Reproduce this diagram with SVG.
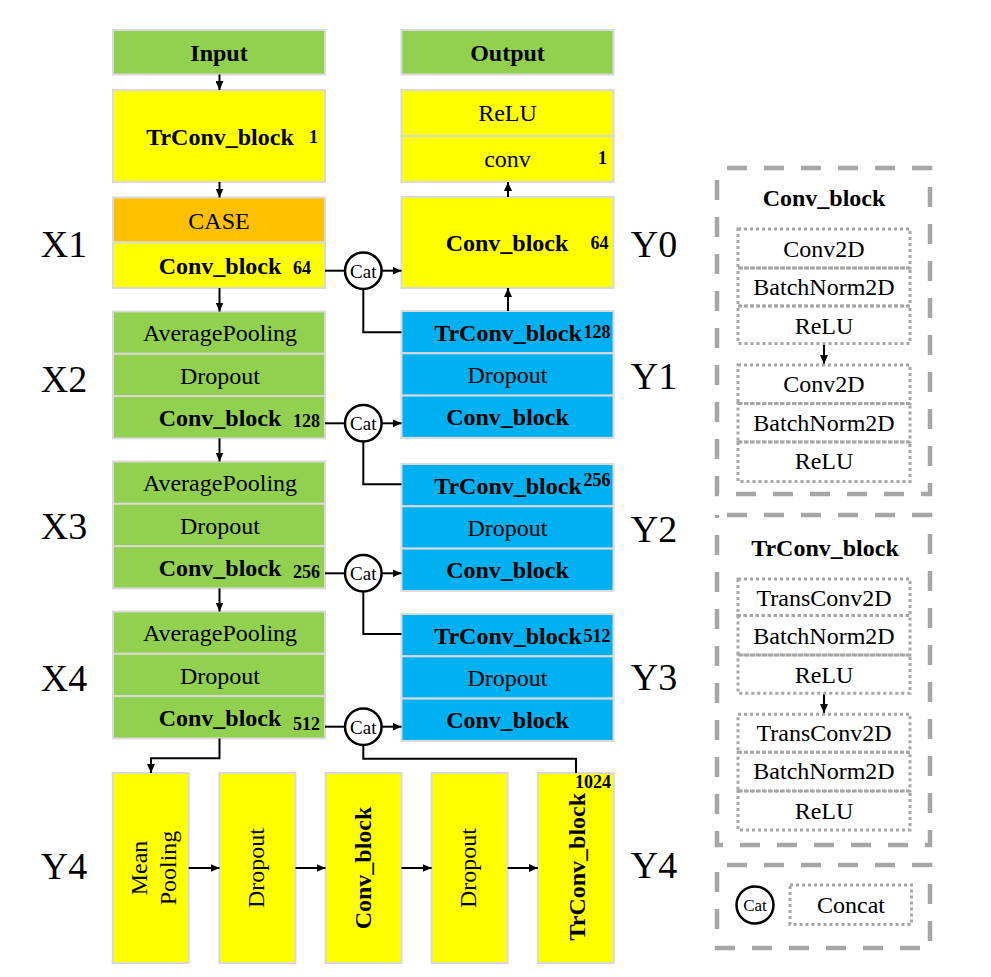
<svg xmlns="http://www.w3.org/2000/svg" width="991" height="977" viewBox="0 0 991 977">
<defs>
<marker id="ah" markerWidth="9" markerHeight="8" refX="9" refY="4" orient="auto" markerUnits="userSpaceOnUse"><path d="M0,0 L9,4 L0,8 z" fill="#000"/></marker>
<style>
.box{stroke:#d9d9d9;stroke-width:2}
.g{fill:#92d050}.y{fill:#ffff00}.o{fill:#ffc000}.b{fill:#00b0f0}
text{font-family:"Liberation Serif","Times New Roman",serif;fill:#000}
.t{font-size:24px;text-anchor:middle}
.tb{font-size:24px;font-weight:bold;text-anchor:middle}
.n{font-size:18px;font-weight:bold}
.lab{font-size:38px;text-anchor:middle}
.cat{fill:#fff;stroke:#000;stroke-width:2.5}
.ct{font-size:19px;text-anchor:middle}
.ln{fill:none;stroke:#000;stroke-width:2}
.outer{fill:none;stroke:#a6a6a6;stroke-width:4.5;stroke-dasharray:20 17;stroke-dashoffset:27}
.dot{fill:none;stroke:#a6a6a6;stroke-width:3;stroke-dasharray:3 3}
</style>
</defs>
<rect width="991" height="977" fill="#fff"/>

<!-- side labels -->
<g id="labels">
<text class="lab" x="64" y="257">X1</text>
<text class="lab" x="64" y="392">X2</text>
<text class="lab" x="64" y="539">X3</text>
<text class="lab" x="64" y="691">X4</text>
<text class="lab" x="64" y="879">Y4</text>
<text class="lab" x="654" y="257">Y0</text>
<text class="lab" x="654" y="389">Y1</text>
<text class="lab" x="654" y="542">Y2</text>
<text class="lab" x="654" y="690">Y3</text>
<text class="lab" x="654" y="878">Y4</text>
</g>

<!-- encoder column -->
<g id="input"><rect class="box g" x="113" y="30" width="212" height="44.5"/><text class="tb" x="219" y="61">Input</text></g>
<g id="trconv1"><rect class="box y" x="113" y="90" width="212" height="92"/><text class="tb" x="220" y="144.5">TrConv_block</text><text class="n" x="309" y="143">1</text></g>
<g id="x1">
<rect class="box o" x="113" y="197.5" width="212" height="45"/><text class="t" x="219" y="228.5">CASE</text>
<rect class="box y" x="113" y="242.5" width="212" height="45.5"/><text class="tb" x="220" y="274">Conv_block</text><text class="n" x="293" y="274">64</text>
</g>
<g id="x2">
<rect class="box g" x="113" y="311.5" width="212" height="42.3"/><text class="t" x="220" y="341">AveragePooling</text>
<rect class="box g" x="113" y="353.8" width="212" height="42.3"/><text class="t" x="220" y="383.5">Dropout</text>
<rect class="box g" x="113" y="396.1" width="212" height="42.3"/><text class="tb" x="220" y="425.8">Conv_block</text><text class="n" x="293" y="426.7">128</text>
</g>
<g id="x3">
<rect class="box g" x="113" y="461.5" width="212" height="42.3"/><text class="t" x="220" y="491">AveragePooling</text>
<rect class="box g" x="113" y="503.8" width="212" height="42.3"/><text class="t" x="220" y="533.5">Dropout</text>
<rect class="box g" x="113" y="546.1" width="212" height="42.3"/><text class="tb" x="220" y="575.8">Conv_block</text><text class="n" x="293" y="577.5">256</text>
</g>
<g id="x4">
<rect class="box g" x="113" y="611.5" width="212" height="42.3"/><text class="t" x="220" y="641">AveragePooling</text>
<rect class="box g" x="113" y="653.8" width="212" height="42.3"/><text class="t" x="220" y="683.5">Dropout</text>
<rect class="box g" x="113" y="696.1" width="212" height="42.3"/><text class="tb" x="220" y="725.8">Conv_block</text><text class="n" x="293" y="730">512</text>
</g>

<!-- decoder column -->
<g id="output"><rect class="box g" x="401.5" y="30" width="212" height="44.5"/><text class="tb" x="507.5" y="61">Output</text></g>
<g id="head">
<rect class="box y" x="401.5" y="90" width="212" height="46"/><text class="t" x="507.5" y="121">ReLU</text>
<rect class="box y" x="401.5" y="136" width="212" height="46"/><text class="t" x="507.5" y="167">conv</text><text class="n" x="598" y="164">1</text>
</g>
<g id="y0"><rect class="box y" x="401.5" y="197" width="212" height="91"/><text class="tb" x="507" y="251">Conv_block</text><text class="n" x="590.5" y="249">64</text></g>
<g id="y1">
<rect class="box b" x="401.5" y="311" width="212" height="42.3"/><text class="tb" x="508" y="340.5">TrConv_block</text><text class="n" x="583.5" y="338">128</text>
<rect class="box b" x="401.5" y="353.3" width="212" height="42.3"/><text class="t" x="507.5" y="383">Dropout</text>
<rect class="box b" x="401.5" y="395.6" width="212" height="42.3"/><text class="tb" x="507.5" y="425.3">Conv_block</text>
</g>
<g id="y2">
<rect class="box b" x="401.5" y="464" width="212" height="42.3"/><text class="tb" x="508" y="493.5">TrConv_block</text><text class="n" x="583.5" y="485.7">256</text>
<rect class="box b" x="401.5" y="506.3" width="212" height="42.3"/><text class="t" x="507.5" y="536">Dropout</text>
<rect class="box b" x="401.5" y="548.6" width="212" height="42.3"/><text class="tb" x="507.5" y="578.3">Conv_block</text>
</g>
<g id="y3">
<rect class="box b" x="401.5" y="614" width="212" height="42.3"/><text class="tb" x="508" y="643.5">TrConv_block</text><text class="n" x="583.5" y="641.7">512</text>
<rect class="box b" x="401.5" y="656.3" width="212" height="42.3"/><text class="t" x="507.5" y="686">Dropout</text>
<rect class="box b" x="401.5" y="698.6" width="212" height="42.3"/><text class="tb" x="507.5" y="728.3">Conv_block</text>
</g>

<!-- bottleneck row -->
<g id="meanpool"><rect class="box y" x="112.7" y="773" width="76" height="190"/>
<text class="t" transform="translate(150.7,868) rotate(-90)" x="0" y="-4">Mean</text>
<text class="t" transform="translate(150.7,868) rotate(-90)" x="0" y="25">Pooling</text></g>
<g id="drop1"><rect class="box y" x="219.5" y="773" width="76" height="190"/><text class="t" transform="translate(257.5,868) rotate(-90)" x="0" y="6">Dropout</text></g>
<g id="convb"><rect class="box y" x="325.5" y="773" width="76" height="190"/><text class="tb" transform="translate(363.5,868) rotate(-90)" x="0" y="7.5">Conv_block</text></g>
<g id="drop2"><rect class="box y" x="431.6" y="773" width="76" height="190"/><text class="t" transform="translate(469.6,868) rotate(-90)" x="0" y="6">Dropout</text></g>
<g id="trconvb"><rect class="box y" x="537.8" y="773" width="76" height="190"/><text class="tb" transform="translate(575.8,866.7) rotate(-90)" x="0" y="9">TrConv_block</text><text class="n" x="611" y="788" text-anchor="end">1024</text></g>

<!-- connectors -->
<g id="connectors">
<line class="ln" x1="219.5" y1="74.5" x2="219.5" y2="90" marker-end="url(#ah)"/>
<line class="ln" x1="219.5" y1="182" x2="219.5" y2="197.5" marker-end="url(#ah)"/>
<line class="ln" x1="219.5" y1="288" x2="219.5" y2="311.5" marker-end="url(#ah)"/>
<line class="ln" x1="219.5" y1="438.4" x2="219.5" y2="461.5" marker-end="url(#ah)"/>
<line class="ln" x1="219.5" y1="588.4" x2="219.5" y2="611.5" marker-end="url(#ah)"/>
<polyline class="ln" points="219.5,738.4 219.5,758.3 151,758.3 151,773" marker-end="url(#ah)"/>
<line class="ln" x1="188.7" y1="868" x2="219.5" y2="868" marker-end="url(#ah)"/>
<line class="ln" x1="295.5" y1="868" x2="325.5" y2="868" marker-end="url(#ah)"/>
<line class="ln" x1="401.5" y1="868" x2="431.6" y2="868" marker-end="url(#ah)"/>
<line class="ln" x1="507.6" y1="868" x2="537.8" y2="868" marker-end="url(#ah)"/>
<line class="ln" x1="508" y1="311" x2="508" y2="288" marker-end="url(#ah)"/>
<line class="ln" x1="508" y1="197" x2="508" y2="182" marker-end="url(#ah)"/>
<!-- cat 1 -->
<line class="ln" x1="325" y1="270.7" x2="345" y2="270.7"/>
<line class="ln" x1="381.3" y1="270.7" x2="401.5" y2="270.7" marker-end="url(#ah)"/>
<polyline class="ln" points="363.3,289 363.3,332.3 401.5,332.3"/>
<!-- cat 2 -->
<line class="ln" x1="325" y1="423.3" x2="345" y2="423.3"/>
<line class="ln" x1="381.3" y1="423.3" x2="401.5" y2="423.3" marker-end="url(#ah)"/>
<polyline class="ln" points="363.3,441.6 363.3,484.3 401.5,484.3"/>
<!-- cat 3 -->
<line class="ln" x1="325" y1="573.3" x2="345" y2="573.3"/>
<line class="ln" x1="381.3" y1="573.3" x2="401.5" y2="573.3" marker-end="url(#ah)"/>
<polyline class="ln" points="363.3,591.6 363.3,634 401.5,634"/>
<!-- cat 4 -->
<line class="ln" x1="325" y1="726.7" x2="345" y2="726.7"/>
<line class="ln" x1="381.3" y1="726.7" x2="401.5" y2="726.7" marker-end="url(#ah)"/>
<polyline class="ln" points="363.3,745 363.3,758.8 576,758.8 576,773"/>
<!-- legend arrows -->
<line class="ln" x1="824" y1="344" x2="824" y2="364" marker-end="url(#ah)"/>
<line class="ln" x1="824" y1="694" x2="824" y2="713" marker-end="url(#ah)"/>
</g>

<g id="cat1"><circle class="cat" cx="363.3" cy="270.7" r="18.3"/><text class="ct" x="363.3" y="277.5">Cat</text></g>
<g id="cat2"><circle class="cat" cx="363.3" cy="423.3" r="18.3"/><text class="ct" x="363.3" y="430">Cat</text></g>
<g id="cat3"><circle class="cat" cx="363.3" cy="573.3" r="18.3"/><text class="ct" x="363.3" y="580">Cat</text></g>
<g id="cat4"><circle class="cat" cx="363.3" cy="726.7" r="18.3"/><text class="ct" x="363.3" y="733.5">Cat</text></g>

<!-- legend: Conv_block -->
<g id="legend-conv">
<rect class="outer" x="717" y="168" width="213" height="326"/>
<text class="tb" x="824" y="206">Conv_block</text>
<rect class="dot" x="738" y="229" width="172" height="39"/><text class="t" x="824" y="257">Conv2D</text>
<rect class="dot" x="738" y="268" width="172" height="38"/><text class="t" x="824" y="295">BatchNorm2D</text>
<rect class="dot" x="738" y="306" width="172" height="37.5"/><text class="t" x="824" y="333.5">ReLU</text>
<rect class="dot" x="738" y="365" width="172" height="38.5"/><text class="t" x="824" y="392">Conv2D</text>
<rect class="dot" x="738" y="403.5" width="172" height="38.5"/><text class="t" x="824" y="430.5">BatchNorm2D</text>
<rect class="dot" x="738" y="442" width="172" height="39.5"/><text class="t" x="824" y="469">ReLU</text>
</g>

<!-- legend: TrConv_block -->
<g id="legend-trconv">
<rect class="outer" x="717" y="515" width="213" height="330"/>
<text class="tb" x="825" y="555.5">TrConv_block</text>
<rect class="dot" x="738" y="579" width="172" height="36.5"/><text class="t" x="824" y="605.5">TransConv2D</text>
<rect class="dot" x="738" y="615.5" width="172" height="39.5"/><text class="t" x="824" y="643.5">BatchNorm2D</text>
<rect class="dot" x="738" y="655" width="172" height="38.3"/><text class="t" x="824" y="683">ReLU</text>
<rect class="dot" x="738" y="714.3" width="172" height="38"/><text class="t" x="824" y="740.5">TransConv2D</text>
<rect class="dot" x="738" y="752.3" width="172" height="38.7"/><text class="t" x="824" y="778.5">BatchNorm2D</text>
<rect class="dot" x="738" y="791" width="172" height="39"/><text class="t" x="824" y="818.5">ReLU</text>
</g>

<!-- legend: Concat -->
<g id="legend-cat">
<rect class="outer" x="717" y="865" width="213" height="83"/>
<circle class="cat" cx="755" cy="905" r="18.5"/><text x="755" y="911" style="font-size:17px;text-anchor:middle">Cat</text>
<rect class="dot" x="790" y="885" width="121.5" height="39.5"/><text class="t" x="851" y="913.3">Concat</text>
</g>
</svg>
